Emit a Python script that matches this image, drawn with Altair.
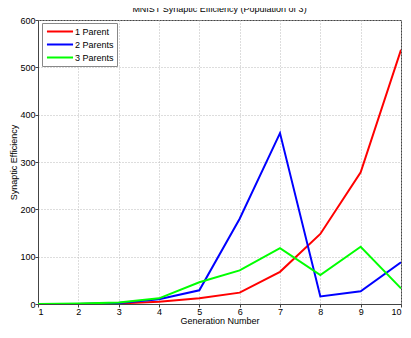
import altair as alt
import pandas as pd

generations = [1, 2, 3, 4, 5, 6, 7, 8, 9, 10]
one_parent = [0, 0, 1, 5, 12, 24, 68, 148, 278, 537]
two_parents = [0, 0, 2, 10, 29, 180, 361, 16, 27, 88]
three_parents = [0, 1, 3, 12, 46, 71, 118, 61, 121, 33]
series_names = ["1 Parent", "2 Parents", "3 Parents"]
series_colors = ["#ff0000", "#0000ff", "#00ff00"]

rows = []
for name, vals in zip(series_names, [one_parent, two_parents, three_parents]):
    for g, v in zip(generations, vals):
        rows.append({"Generation": g, "Efficiency": v, "Series": name})
df = pd.DataFrame(rows)

font = "Liberation Sans"
fs = 9

chart = alt.Chart(df).mark_line(strokeWidth=2, clip=True).encode(
    x=alt.X("Generation:Q", title="Generation Number",
            scale=alt.Scale(domain=[1, 10], nice=False),
            axis=alt.Axis(values=generations, format="d", tickSize=3, labelPadding=0,
                          titlePadding=0)),
    y=alt.Y("Efficiency:Q", title="Synaptic Efficiency",
            scale=alt.Scale(domain=[0, 600], nice=False),
            axis=alt.Axis(values=[0, 100, 200, 300, 400, 500, 600], tickSize=3,
                          labelPadding=0, titlePadding=1)),
    color=alt.Color("Series:N", title=None,
                    scale=alt.Scale(domain=series_names, range=series_colors),
                    legend=alt.Legend(orient="none", legendX=4, legendY=3,
                                      symbolType="M-2.9,0H2.9", symbolSize=81,
                                      symbolOffset=9.5, labelOffset=9.5,
                                      symbolStrokeWidth=2, rowPadding=2,
                                      padding=3, fillColor="white",
                                      strokeColor="#888888", labelFontSize=fs,
                                      labelFont=font, labelColor="black")),
).properties(
    width=363, height=284,
    title=alt.Title("MNIST Synaptic Efficiency (Population of 3)", fontSize=fs,
                    font=font, fontWeight="normal", color="black", offset=2,
                    frame="group"),
    autosize=alt.AutoSizeParams(type="none"),
    padding={"left": 30, "top": 12, "right": 2, "bottom": 21},
).configure_view(
    stroke="#444444", strokeWidth=1
).configure_axis(
    domainColor="#444444", tickColor="#444444",
    gridColor="#bbbbbb", gridDash=[1, 2], gridWidth=1,
    labelFont=font, labelFontSize=fs, labelColor="black",
    titleFont=font, titleFontSize=fs, titleFontWeight="normal", titleColor="black",
)

chart.save("out.html", embed_options={"renderer": "svg", "actions": False})
